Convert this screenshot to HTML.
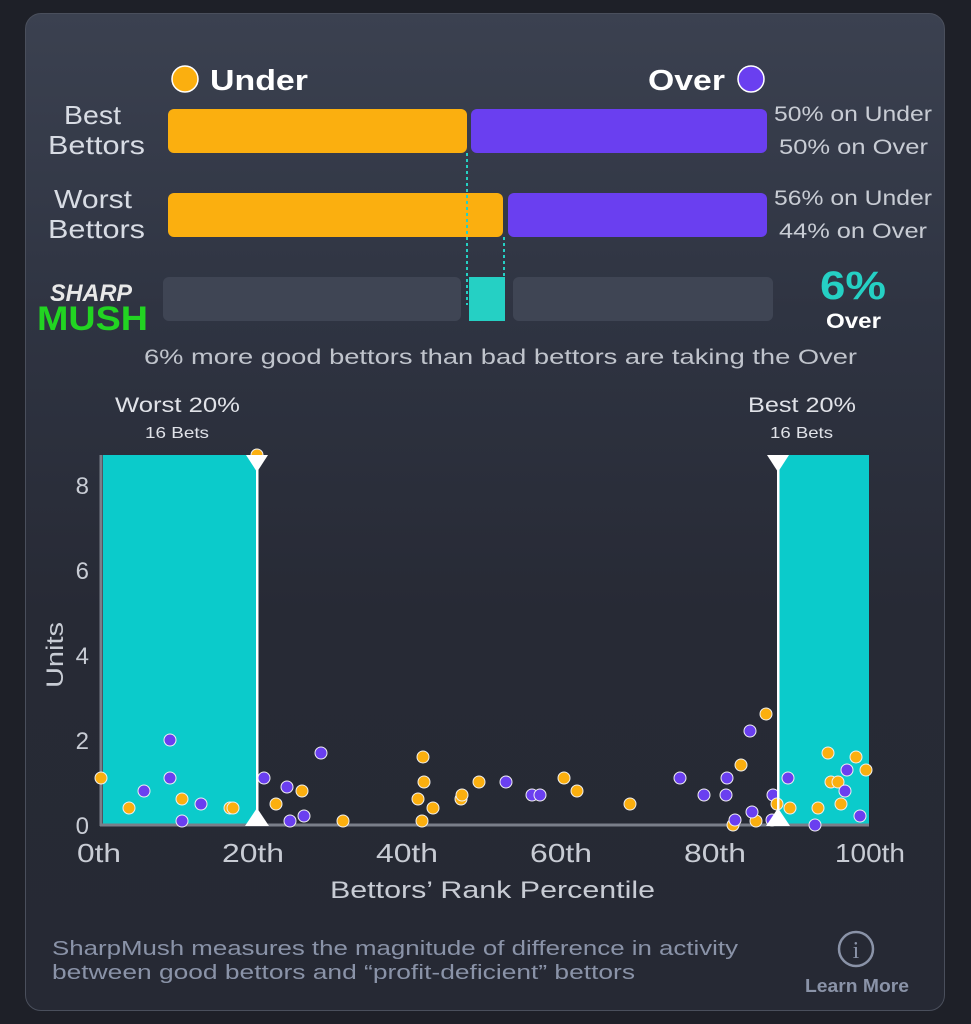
<!DOCTYPE html><html><head><style>
body{margin:0;width:971px;height:1024px;background:#1e2028;font-family:"Liberation Sans",sans-serif;overflow:hidden;position:relative}
.card{position:absolute;left:25px;top:13px;width:920px;height:998px;border-radius:16px;background:linear-gradient(#3b4150 0%,#2f3442 30%,#272a35 60%,#262934 100%);border:1px solid #4a4f5c;box-sizing:border-box}
</style></head><body>
<div class="card"></div>
<svg width="971" height="1024" style="position:absolute;left:0;top:0" font-family="Liberation Sans, sans-serif">
<circle cx="185" cy="79" r="13" fill="#fbaf0f" stroke="#fff" stroke-width="1.5"/>
<text x="210" y="90" font-size="29" font-weight="bold" fill="#fff" textLength="98" lengthAdjust="spacingAndGlyphs">Under</text>
<text x="648" y="90" font-size="29" font-weight="bold" fill="#fff" textLength="77" lengthAdjust="spacingAndGlyphs">Over</text>
<circle cx="751" cy="79" r="13" fill="#6a3ff0" stroke="#fff" stroke-width="1.5"/>
<g font-size="26" fill="#d8dce4">
<text x="64" y="124" textLength="57" lengthAdjust="spacingAndGlyphs">Best</text><text x="48" y="154" textLength="97" lengthAdjust="spacingAndGlyphs">Bettors</text>
<text x="54" y="208" textLength="78" lengthAdjust="spacingAndGlyphs">Worst</text><text x="48" y="238" textLength="97" lengthAdjust="spacingAndGlyphs">Bettors</text></g>
<rect x="168" y="109" width="299" height="44" rx="6" fill="#fbaf0f"/>
<rect x="471" y="109" width="296" height="44" rx="6" fill="#6a3ff0"/>
<rect x="168" y="193" width="335" height="44" rx="6" fill="#fbaf0f"/>
<rect x="508" y="193" width="259" height="44" rx="6" fill="#6a3ff0"/>
<g font-size="21" fill="#c8ccd4" lengthAdjust="spacingAndGlyphs">
<text x="774" y="121" textLength="158" lengthAdjust="spacingAndGlyphs">50% on Under</text><text x="779" y="154" textLength="149" lengthAdjust="spacingAndGlyphs">50% on Over</text>
<text x="774" y="205" textLength="158" lengthAdjust="spacingAndGlyphs">56% on Under</text><text x="779" y="238" textLength="148" lengthAdjust="spacingAndGlyphs">44% on Over</text></g>
<g stroke="#25d0c4" stroke-width="2" stroke-dasharray="3,3"><line x1="467" y1="153" x2="467" y2="305"/><line x1="504" y1="237" x2="504" y2="277"/></g>
<rect x="163" y="277" width="298" height="44" rx="6" fill="#3f4554"/>
<rect x="513" y="277" width="260" height="44" rx="6" fill="#3f4554"/>
<rect x="469" y="277" width="36" height="44" fill="#25d0c4"/>
<text x="50" y="301" font-size="24" font-weight="bold" font-style="italic" fill="#e8e8e8" textLength="82" lengthAdjust="spacingAndGlyphs">SHARP</text>
<text x="37" y="330" font-size="34" font-weight="bold" fill="#22d422" textLength="111" lengthAdjust="spacingAndGlyphs">MUSH</text>
<text x="820" y="299" font-size="40" font-weight="bold" fill="#25d0c4" textLength="66" lengthAdjust="spacingAndGlyphs">6%</text>
<text x="826" y="328" font-size="21" font-weight="bold" fill="#fff" textLength="55" lengthAdjust="spacingAndGlyphs">Over</text>
<text x="144" y="364" font-size="21" fill="#c0c4cc" textLength="713" lengthAdjust="spacingAndGlyphs">6% more good bettors than bad bettors are taking the Over</text>
<text x="115" y="412" font-size="21" fill="#e0e2e8" textLength="125" lengthAdjust="spacingAndGlyphs">Worst 20%</text>
<text x="145" y="438" font-size="16" fill="#e0e2e8" textLength="64" lengthAdjust="spacingAndGlyphs">16 Bets</text>
<text x="748" y="412" font-size="21" fill="#e0e2e8" textLength="108" lengthAdjust="spacingAndGlyphs">Best 20%</text>
<text x="770" y="438" font-size="16" fill="#e0e2e8" textLength="63" lengthAdjust="spacingAndGlyphs">16 Bets</text>
<rect x="103" y="455" width="154" height="370" fill="#0bcbcb"/>
<rect x="778" y="455" width="91" height="370" fill="#0bcbcb"/>
<line x1="101" y1="455" x2="101" y2="826" stroke="#7a7f8a" stroke-width="3"/>
<line x1="100" y1="825" x2="869" y2="825" stroke="#7a7f8a" stroke-width="3"/>
<g font-size="24" fill="#c8ccd4" text-anchor="end">
<text x="89" y="834">0</text><text x="89" y="749">2</text><text x="89" y="664">4</text><text x="89" y="579">6</text><text x="89" y="494">8</text></g>
<text transform="translate(63,655) rotate(-90)" font-size="24" fill="#c8ccd4" text-anchor="middle" textLength="66" lengthAdjust="spacingAndGlyphs">Units</text>
<g font-size="26" fill="#c8ccd4">
<text x="77" y="862" textLength="44" lengthAdjust="spacingAndGlyphs">0th</text><text x="222" y="862" textLength="62" lengthAdjust="spacingAndGlyphs">20th</text><text x="376" y="862" textLength="62" lengthAdjust="spacingAndGlyphs">40th</text><text x="530" y="862" textLength="62" lengthAdjust="spacingAndGlyphs">60th</text><text x="684" y="862" textLength="62" lengthAdjust="spacingAndGlyphs">80th</text><text x="835" y="862" textLength="70" lengthAdjust="spacingAndGlyphs">100th</text></g>
<text x="330" y="898" font-size="24" fill="#c8ccd4" textLength="325" lengthAdjust="spacingAndGlyphs">Bettors’ Rank Percentile</text>
<g stroke="#f0f0f0" stroke-width="1" fill="#fbaf0f">
<circle cx="101" cy="778" r="6"/><circle cx="129" cy="808" r="6"/><circle cx="182" cy="799" r="6"/><circle cx="230" cy="808" r="6"/><circle cx="233" cy="808" r="6"/><circle cx="276" cy="804" r="6"/><circle cx="302" cy="791" r="6"/><circle cx="343" cy="821" r="6"/><circle cx="423" cy="757" r="6"/><circle cx="424" cy="782" r="6"/><circle cx="418" cy="799" r="6"/><circle cx="433" cy="808" r="6"/><circle cx="422" cy="821" r="6"/><circle cx="461" cy="799" r="6"/><circle cx="462" cy="795" r="6"/><circle cx="479" cy="782" r="6"/><circle cx="564" cy="778" r="6"/><circle cx="577" cy="791" r="6"/><circle cx="630" cy="804" r="6"/><circle cx="766" cy="714" r="6"/><circle cx="741" cy="765" r="6"/><circle cx="756" cy="821" r="6"/><circle cx="733" cy="825" r="6"/><circle cx="790" cy="808" r="6"/><circle cx="818" cy="808" r="6"/><circle cx="828" cy="753" r="6"/><circle cx="831" cy="782" r="6"/><circle cx="838" cy="782" r="6"/><circle cx="841" cy="804" r="6"/><circle cx="856" cy="757" r="6"/><circle cx="866" cy="770" r="6"/><circle cx="257" cy="455" r="6"/>
</g>
<g stroke="#f0f0f0" stroke-width="1" fill="#6a3ff0">
<circle cx="170" cy="740" r="6"/><circle cx="170" cy="778" r="6"/><circle cx="144" cy="791" r="6"/><circle cx="201" cy="804" r="6"/><circle cx="182" cy="821" r="6"/><circle cx="264" cy="778" r="6"/><circle cx="287" cy="787" r="6"/><circle cx="290" cy="821" r="6"/><circle cx="304" cy="816" r="6"/><circle cx="321" cy="753" r="6"/><circle cx="506" cy="782" r="6"/><circle cx="532" cy="795" r="6"/><circle cx="540" cy="795" r="6"/><circle cx="680" cy="778" r="6"/><circle cx="704" cy="795" r="6"/><circle cx="727" cy="778" r="6"/><circle cx="726" cy="795" r="6"/><circle cx="750" cy="731" r="6"/><circle cx="752" cy="812" r="6"/><circle cx="735" cy="820" r="6"/><circle cx="773" cy="795" r="6"/><circle cx="772" cy="820" r="6"/><circle cx="788" cy="778" r="6"/><circle cx="815" cy="825" r="6"/><circle cx="847" cy="770" r="6"/><circle cx="845" cy="791" r="6"/><circle cx="860" cy="816" r="6"/>
</g>
<circle cx="777" cy="804" r="6" fill="#fbaf0f" stroke="#f0f0f0"/>
<g fill="#fff"><rect x="256" y="455" width="2.5" height="370"/><rect x="777" y="455" width="2.5" height="370"/>
<polygon points="246,455 268,455 257,472"/><polygon points="767,455 789,455 778,472"/>
<polygon points="245,826 269,826 257,808"/><polygon points="766,826 790,826 778,808"/></g>
<g font-size="20" fill="#8a93a8"><text x="52" y="955" textLength="686" lengthAdjust="spacingAndGlyphs">SharpMush measures the magnitude of difference in activity</text><text x="52" y="979" textLength="583" lengthAdjust="spacingAndGlyphs">between good bettors and “profit-deficient” bettors</text></g>
<circle cx="856" cy="949" r="17" fill="none" stroke="#8a93a8" stroke-width="2.5"/>
<text x="856" y="958" font-size="24" fill="#8a93a8" text-anchor="middle" font-family="Liberation Serif, serif">i</text>
<text x="805" y="992" font-size="18" font-weight="bold" fill="#8a93a8" textLength="104" lengthAdjust="spacingAndGlyphs">Learn More</text>
</svg>
</body></html>
